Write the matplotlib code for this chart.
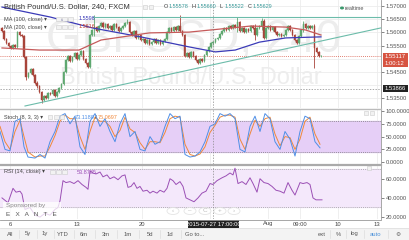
import matplotlib.pyplot as plt
import numpy as np
from matplotlib.patches import Rectangle, Circle

plt.rcParams['font.family'] = ['Liberation Sans', 'DejaVu Sans']

# ---- data (4h bars, GBPUSD) ----
closes = [1.5605, 1.5575, 1.5560, 1.5548, 1.5540, 1.5552, 1.5545, 1.5600, 1.5590, 1.5585,
          1.5505, 1.5430, 1.5445, 1.5460, 1.5440, 1.5410, 1.5395, 1.5375, 1.5345, 1.5360,
          1.5350, 1.5370, 1.5365, 1.5380, 1.5360, 1.5375, 1.5390, 1.5405, 1.5450, 1.5495,
          1.5510, 1.5490, 1.5505, 1.5520, 1.5500, 1.5515, 1.5530, 1.5500, 1.5485, 1.5470,
          1.5590, 1.5610, 1.5620, 1.5605, 1.5625, 1.5635, 1.5620, 1.5630, 1.5615, 1.5625,
          1.5610, 1.5630, 1.5620, 1.5605, 1.5615, 1.5625, 1.5635, 1.5640, 1.5600, 1.5590,
          1.5605, 1.5580, 1.5590, 1.5570, 1.5575, 1.5560, 1.5570, 1.5555, 1.5565, 1.5575,
          1.5560, 1.5570, 1.5555, 1.5568, 1.5575, 1.5600, 1.5615, 1.5605, 1.5620, 1.5610,
          1.5625, 1.5605, 1.5590, 1.5510, 1.5520, 1.5505, 1.5525, 1.5510, 1.5495, 1.5485,
          1.5500, 1.5490, 1.5515, 1.5530, 1.5545, 1.5558, 1.5563, 1.5575, 1.5580, 1.5595,
          1.5605, 1.5615, 1.5610, 1.5625, 1.5615, 1.5628, 1.5620, 1.5640, 1.5605, 1.5615,
          1.5600, 1.5612, 1.5605, 1.5625, 1.5615, 1.5590, 1.5615, 1.5625, 1.5645, 1.5580,
          1.5615, 1.5625, 1.5610, 1.5620, 1.5600, 1.5590, 1.5595, 1.5585, 1.5590, 1.5610,
          1.5625, 1.5610, 1.5590, 1.5570, 1.5560, 1.5585, 1.5610, 1.5630, 1.5615, 1.5625,
          1.5618, 1.5625, 1.5540, 1.5525, 1.5510, 1.5512]
first_open = 1.5617
spike_idx = [11, 18, 42, 57, 81, 107, 115, 118, 137, 142]
spike_hi = [1.5500, 1.5372, 1.5666, 1.5652, 1.5666, 1.5660, 1.5630, 1.5655, 1.5645, 1.5630]
spike_lo = [1.5420, 1.5332, 1.5585, 1.5630, 1.5600, 1.5600, 1.5570, 1.5610, 1.5600, 1.5465]

ma100_x = [0, 22, 41, 63, 85, 97, 106, 117, 129, 145]
ma100 = [1.5696, 1.5658, 1.5617, 1.5583, 1.5545, 1.5526, 1.5533, 1.5563, 1.5579, 1.5583]
ma200_x = [0, 17, 35, 45, 67, 85, 113, 129, 138, 145]
ma200 = [1.5541, 1.5533, 1.5533, 1.5571, 1.5598, 1.5601, 1.5624, 1.5620, 1.5609, 1.5590]

# stochastic (x in pixels of the original chart)
sto_px = [0, 5, 10, 15, 20, 24, 28, 35, 40, 45, 50, 55, 60, 65, 70, 75, 80, 85, 90, 95,
          100, 105, 110, 115, 120, 125, 130, 135, 140, 145, 150, 155, 160, 165, 170, 175,
          180, 185, 190, 195, 200, 205, 210, 215, 220, 225, 230, 235, 240, 245, 250, 255,
          260, 265, 270, 275, 280, 285, 290, 295, 300, 305, 310, 315, 320]
sto_k = [60, 25, 22, 80, 85, 30, 10, 8, 15, 8, 40, 60, 90, 95, 75, 90, 30, 15, 80, 95,
         70, 85, 60, 40, 75, 95, 50, 60, 25, 22, 50, 35, 40, 70, 95, 85,
         90, 15, 10, 12, 20, 40, 70, 75, 95, 90, 95, 85, 25, 20, 70, 90,
         60, 95, 85, 40, 25, 60, 45, 12, 60, 90, 85, 40, 28]
sto_d = [70, 40, 25, 60, 82, 50, 20, 10, 12, 12, 30, 52, 80, 92, 85, 85, 50, 25, 60, 88,
         80, 80, 70, 50, 62, 88, 65, 58, 38, 25, 40, 40, 38, 58, 85, 90,
         88, 35, 15, 12, 16, 30, 58, 72, 88, 92, 92, 88, 45, 25, 55, 82,
         70, 85, 88, 55, 32, 50, 48, 25, 45, 80, 88, 55, 35]

rsi_px = [2, 8, 13, 16, 20, 22, 25, 30, 35, 40, 45, 50, 55, 58, 60, 63, 66, 70, 74, 78,
          82, 86, 88, 90, 93, 96, 100, 103, 107, 110, 114, 118, 122, 125, 128, 131, 134, 137,
          140, 143, 147, 150, 153, 157, 160, 164, 167, 170, 173, 176, 180, 183, 186, 190,
          194, 198, 202, 206, 210, 213, 217, 222, 226, 230, 233, 235, 238, 242, 246, 250,
          253, 257, 260, 264, 268, 272, 276, 280, 284, 288, 292, 295, 300, 303, 307, 310,
          313, 316, 319, 322]
rsi = [40, 35, 50, 46, 47, 44, 28, 30, 22, 20, 24, 22, 28, 30, 37, 58, 56, 57, 55, 58,
       54, 51, 49, 68, 66, 65, 67, 62, 64, 60, 62, 59, 63, 64, 51, 52, 56, 50,
       52, 47, 48, 45, 47, 45, 48, 46, 50, 60, 58, 54, 57, 52, 40, 38,
       36, 40, 45, 47, 55, 54, 58, 61, 63, 66, 64, 71, 55, 57, 54, 61,
       55, 46, 60, 56, 55, 52, 48, 47, 45, 56, 48, 43, 56, 55, 56, 54,
       40, 38, 38, 38]

price_ticks = [1.535, 1.545, 1.555, 1.560, 1.565, 1.570]
time_pos = [3.6, 34.1, 63.6, 120.9, 135.5, 152.7, 170.5]
time_lbl = ['6', '13', '20', 'Aug', '09:00', '10', '13']

W, H = 410, 240
DX = 2.2  # pixels per bar
FS = 4.0


def to_i(px):
    return (np.array(px) - 2) / DX


fig = plt.figure(figsize=(4.1, 2.4), dpi=100)
fig.patch.set_facecolor('white')


def px_axes(x0, y0, x1, y1):
    return fig.add_axes([x0 / W, 1 - y1 / H, (x1 - x0) / W, (y1 - y0) / H])


def ftext(x, y, s, **kw):
    kw.setdefault('fontsize', FS)
    fig.text(x / W, 1 - y / H, s, **kw)


XL = (-2 / DX, 379 / DX)
grid_c = '#ececec'

ax = px_axes(0, 0, 381, 108)
ax_s = px_axes(0, 109, 381, 164)
ax_r = px_axes(0, 166, 381, 219)

for a in (ax, ax_s, ax_r):
    a.set_xlim(*XL)
    a.set_xticks([])
    a.yaxis.tick_right()
    a.tick_params(axis='y', length=2, labelsize=4.2, colors='#555555', pad=1.5, width=0.5)
    for sp in ('top', 'left', 'bottom'):
        a.spines[sp].set_visible(False)
    a.spines['right'].set_color('#999999')
    a.spines['right'].set_linewidth(0.6)
    for t in time_pos + [94.5]:
        a.axvline(t, color=grid_c, lw=0.6, zorder=0)

# ---- main panel ----
ax.set_ylim(1.53134, 1.57227)
ax.set_yticks(price_ticks)
ax.set_yticklabels(['%.5f' % p for p in price_ticks])
for p in np.arange(1.535, 1.5701, 0.005):
    ax.axhline(p, color=grid_c, lw=0.6, zorder=0)

ax.text(0.508, 0.63, 'GBPUSD, 240', transform=ax.transAxes, ha='center', va='center',
        fontsize=33, color='#ededed', zorder=0.5)
ax.text(0.50, 0.275, 'British Pound/U.S. Dollar', transform=ax.transAxes, ha='center',
        va='center', fontsize=17, color='#ededed', zorder=0.5)

idx = np.arange(len(closes))
opens = np.array([first_open] + closes[:-1])
cl = np.array(closes)
hi = np.maximum(opens, cl) + 0.0004
lo = np.minimum(opens, cl) - 0.0004
for k, h, l in zip(spike_idx, spike_hi, spike_lo):
    hi[k] = max(hi[k], h)
    lo[k] = min(lo[k], l)
up = cl >= opens
cols = np.where(up, '#5fa870', '#a8443a')
ax.vlines(idx, lo, hi, color=cols, lw=0.6, zorder=3)
ax.bar(idx, np.maximum(np.abs(cl - opens), 0.00012), bottom=np.minimum(opens, cl),
       width=0.75, color=cols, edgecolor=cols, lw=0.3, zorder=4)

ax.plot(ma100_x, ma100, color='#3b3bb8', lw=0.9, zorder=5)
ax.plot(ma200_x, ma200, color='#c55a5a', lw=0.9, zorder=5)

# trend lines
ax.plot([to_i(93), XL[1]], [1.5658, 1.5658], color='#6cbcaa', lw=0.8, zorder=5)
ax.plot([to_i(25), XL[1]], [1.5321, 1.5617], color='#6cbcaa', lw=0.8, zorder=5)

# current price and crosshair
ax.axhline(1.55117, color='#d75442', lw=0.6, ls=(0, (1, 1.5)), zorder=2)
ax.axhline(1.53866, color='#888888', lw=0.5, ls=(0, (2, 2)), zorder=2)
for a in (ax, ax_s, ax_r):
    a.axvline(96, color='#888888', lw=0.5, ls=(0, (2, 2)), zorder=6)

# ---- stochastic ----
ax_s.set_ylim(-3.6, 104)
ax_s.set_yticks([0, 25, 50, 75, 100])
ax_s.set_yticklabels(['0.0000', '25.0000', '50.0000', '75.0000', '100.0000'])
ax_s.axhspan(20, 80, color='#e6cff7', zorder=0)
ax_s.axhline(80, color='#777777', lw=0.5, ls=(0, (1.5, 1.5)))
ax_s.axhline(20, color='#777777', lw=0.5, ls=(0, (1.5, 1.5)))
ax_s.plot(to_i(sto_px), sto_d, color='#f0883a', lw=0.7, zorder=3)
ax_s.plot(to_i(sto_px), sto_k, color='#4f8fe6', lw=0.7, zorder=4)

# ---- RSI ----
ax_r.set_ylim(18, 73.3)
ax_r.set_yticks([20, 40, 60])
ax_r.set_yticklabels(['20.0000', '40.0000', '60.0000'])
ax_r.axhspan(30, 70, color='#f4e8fb', zorder=0)
ax_r.axhline(70, color='#999999', lw=0.5, ls=(0, (1.5, 1.5)))
ax_r.axhline(30, color='#999999', lw=0.5, ls=(0, (1.5, 1.5)))
ax_r.plot(to_i(rsi_px), rsi, color='#9b4fb5', lw=0.7, zorder=3)

# panel separators
fig.add_artist(plt.Line2D([0, 381 / W], [1 - 108.5 / H] * 2, color='#bbbbbb', lw=1.0))
fig.add_artist(plt.Line2D([0, 381 / W], [1 - 164.8 / H] * 2, color='#aaaaaa', lw=1.6))
fig.add_artist(plt.Line2D([0, 381 / W], [1 - 219.5 / H] * 2, color='#999999', lw=0.6))

# ---- legends ----
ftext(4, 7, 'British Pound/U.S. Dollar, 240, FXCM', fontsize=5.4, color='#333333', va='center')
ftext(164, 7, 'O', color='#333333', va='center')
ftext(169, 7, '1.55578', color='#3a9a9a', va='center')
ftext(192, 7, 'H', color='#333333', va='center')
ftext(197, 7, '1.55660', color='#3a9a9a', va='center')
ftext(220, 7, 'L', color='#333333', va='center')
ftext(225, 7, '1.55522', color='#3a9a9a', va='center')
ftext(248, 7, 'C', color='#333333', va='center')
ftext(253, 7, '1.55629', color='#3a9a9a', va='center')
fig.add_artist(Circle((342 / W, 1 - 8 / H), 1.3 / W, color='#3c9a6e', transform=fig.transFigure))
ftext(345, 8, 'realtime', color='#555555', va='center')

ftext(4, 19, 'MA (100, close) \u25be', color='#444444', va='center')
ftext(79, 19, '1.5596', color='#3b3bb8', va='center')
ftext(4, 27, 'MA (200, close) \u25be', color='#444444', va='center')
ftext(79, 27, '1.5616', color='#c0392b', va='center')
ftext(4, 117, 'Stoch (8, 3, 3) \u25be', color='#444444', va='center')
ftext(75, 117, '73.1180', color='#4f8fe6', va='center')
ftext(95, 117, '/', color='#444444', va='center')
ftext(98, 117, '75.0697', color='#f0883a', va='center')
ftext(4, 172, 'RSI (14, close) \u25be', color='#444444', va='center')
ftext(77, 172, '53.8785', color='#9b4fb5', va='center')
for x0, y0, n in [(48, 117, 3), (50, 172, 3), (56, 19, 3), (56, 27, 3), (143, 7, 2),
                  (364, 113, 2), (367, 168, 1)]:
    for j in range(n):
        fig.add_artist(Rectangle(((x0 + j * 6) / W, 1 - (y0 + 2.2) / H), 4.5 / W, 4.5 / H,
                                 facecolor='#f2f2f2', edgecolor='#cccccc', lw=0.4,
                                 transform=fig.transFigure))

# right-axis price boxes
for y, s, c in [(56.0, '1.55117', '#d75442'), (63.7, '1:00:12', '#d75442'), (88.7, '1.53866', '#222222')]:
    fig.add_artist(Rectangle((383 / W, 1 - (y + 3.5) / H), 25 / W, 7 / H, facecolor=c,
                             edgecolor='none', transform=fig.transFigure))
    ftext(385, y, s, fontsize=4.2, color='white', va='center')

# sponsored overlay
fig.add_artist(Rectangle((3 / W, 1 - 219 / H), 58 / W, 17 / H, facecolor='white', alpha=0.75,
                         edgecolor='none', transform=fig.transFigure))
ftext(6, 206, 'Sponsored by', fontsize=4.6, color='#888888', va='center')
ftext(6, 214, 'E   X   A   N   T   E', fontsize=4.6, color='#555555', va='center')
for cx, sym in [(173, '\u2039'), (190, '\u2013'), (205, 'C'), (220, '+'), (234, '\u203a')]:
    fig.add_artist(Circle((cx / W, 1 - 211 / H), 6 / W, facecolor='white', alpha=0.8,
                          edgecolor='#dddddd', lw=0.6, transform=fig.transFigure))
    ftext(cx, 211, sym, fontsize=4.6, color='#bbbbbb', ha='center', va='center')

# time axis
for t, s in zip(time_pos, time_lbl):
    ftext(2 + t * DX, 224, s, fontsize=4.2, color='#444444', ha='center', va='center')
fig.add_artist(Rectangle((188 / W, 1 - 228 / H), 51 / W, 8 / H, facecolor='#222222',
                         edgecolor='none', transform=fig.transFigure))
ftext(213.5, 224, '2015-07-27 17:00:00', fontsize=4.2, color='white', ha='center', va='center')

# toolbar
fig.add_artist(Rectangle((0, 0), 1, 12 / H, facecolor='#f3f3f3', edgecolor='none',
                         transform=fig.transFigure))
fig.add_artist(plt.Line2D([0, 1], [12 / H] * 2, color='#dddddd', lw=0.5))
for x, s in [(10, 'All'), (28, '5y'), (45, '1y'), (63, 'YTD'), (84, '6m'), (106, '3m'),
             (128, '1m'), (150, '5d'), (170, '1d'), (195, 'Go to...')]:
    ftext(x, 234, s, fontsize=4.2, color='#555555', ha='center', va='center')
for x in [19, 37, 54, 74, 95, 117, 139, 160, 181]:
    fig.add_artist(plt.Line2D([x / W] * 2, [2 / H, 10 / H], color='#dddddd', lw=0.5))
for x, s, c in [(322, 'ext', '#555555'), (338, '%', '#555555'), (355, 'log', '#555555'),
                (376, 'auto', '#4a90d9'), (398, '\u2699', '#666666')]:
    ftext(x, 234, s, fontsize=4.2, color=c, ha='center', va='center')
for x in [330, 346, 364, 388]:
    fig.add_artist(plt.Line2D([x / W] * 2, [2 / H, 10 / H], color='#dddddd', lw=0.5))

fig.savefig('out.png', dpi=100)
